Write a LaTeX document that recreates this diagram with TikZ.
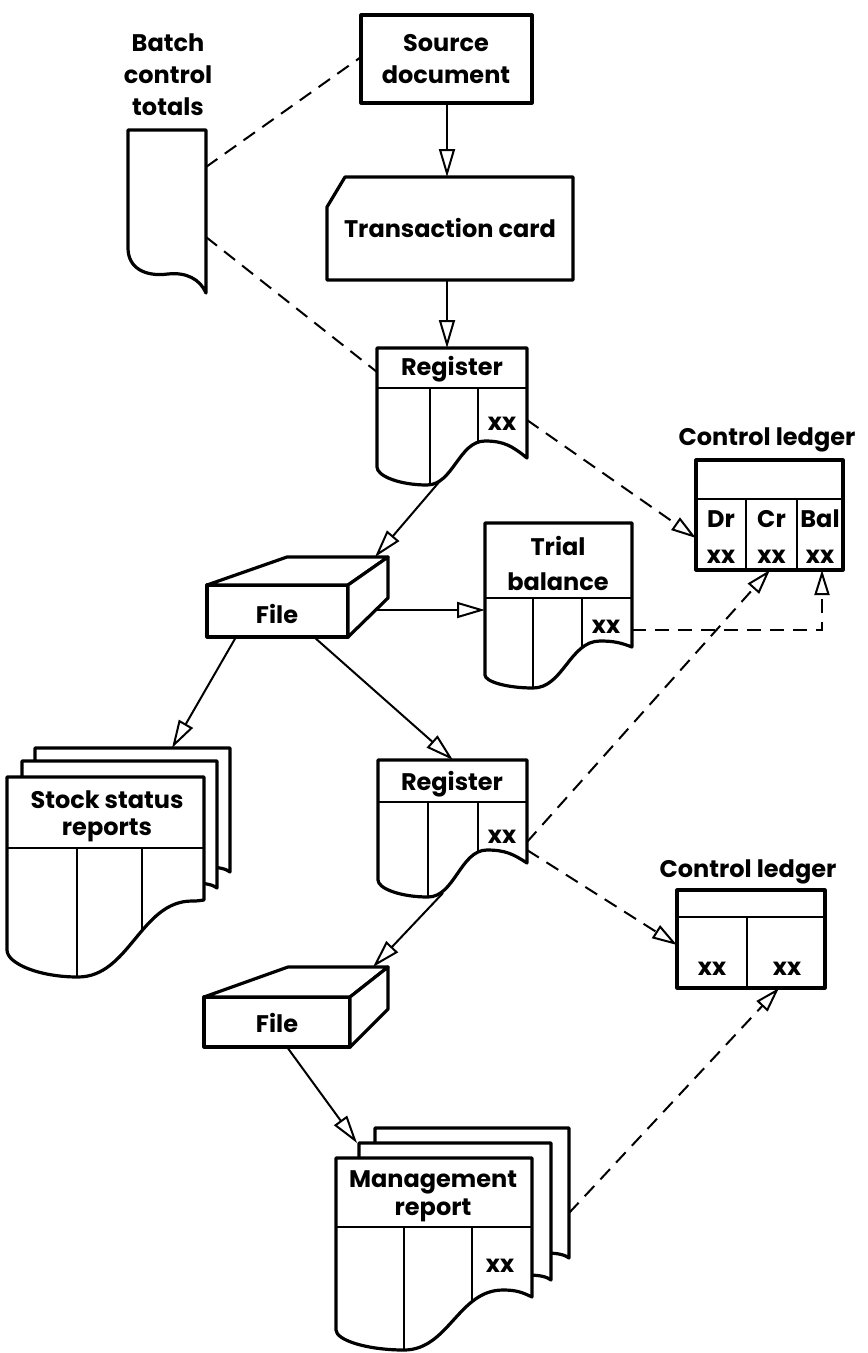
\documentclass[tikz,border=0pt]{standalone}
\usepackage{fontspec}
\setmainfont{Poppins}
\usetikzlibrary{arrows.meta}
% #1 x0, #2 top, #3 x1, #4 yR, #5 xC, #6 yC, #7 xT, #8 yT, #9 yL
\newcommand\docpath[9]{(#1,#2) -- (#3,#2) -- (#3,#4) .. controls ({#3-(#3-#5)*0.35},{#6+(#4-#6)*0.3}) and ({#5+(#3-#5)*0.45},#6) .. (#5,#6) .. controls ({#5-(#5-#7)*0.45},#6) and ({#7+(#5-#7)*0.45},#8) .. (#7,#8) .. controls ({#7-(#7-#1)*0.55},#8) and (#1,{#9+(#8-#9)*0.5}) .. (#1,#9) -- cycle}
\newcommand\setcols[3]{\def\rdiv{#1}\def\rca{#2}\def\rcb{#3}}
\newcommand\reportdoc[9]{%
  \fill[white] \docpath{#1}{#2}{#3}{#4}{#5}{#6}{#7}{#8}{#9};
  \begin{scope}
    \clip \docpath{#1}{#2}{#3}{#4}{#5}{#6}{#7}{#8}{#9};
    \draw[colline] (#1,\rdiv) -- (#3,\rdiv) (\rca,\rdiv) -- (\rca,1400) (\rcb,\rdiv) -- (\rcb,1400);
  \end{scope}
  \draw[ln] \docpath{#1}{#2}{#3}{#4}{#5}{#6}{#7}{#8}{#9};}
% back page of a stack: #1 x0, #2 top, #3 x1, #4 yR (only top, right edge and a small curl show)
\newcommand\pagedoc[4]{\draw[box] (#1,{#4-4}) -- (#1,#2) -- (#3,#2) -- (#3,#4) .. controls ({#3-4},{#4-3}) and ({#3-10},{#4-5}) .. ({#3-24},{#4-5}) -- cycle;}
\begin{document}
\begin{tikzpicture}[x=1pt,y=-1pt,
  ln/.style={line width=3.2pt,line join=round},
  box/.style={ln,fill=white},
  colline/.style={line width=2.8pt},
  conn/.style={line width=2pt,-{Triangle[open,length=28pt,width=16pt]}},
  dline/.style={line width=2pt,dash pattern=on 14pt off 9pt},
  darrow/.style={dline,-{Triangle[open,length=25pt,width=15pt]}},
  txt/.style={font=\fontsize{24}{28}\selectfont\bfseries,inner sep=0pt,anchor=base}]
\useasboundingbox (0,0) rectangle (868,1353);

% ---------- Batch control totals
\draw[box] (128,130) -- (206,130) -- (206,293) .. controls (200,279) and (186,272) .. (168,274) .. controls (145,277) and (128,268) .. (128,248) -- cycle;
\node[txt] (bt1) at (168,51) {Batch};
\node[txt] (bt2) at (168,83) {control};
\node[txt] (bt3) at (168,115) {totals};
\coordinate (batchA) at (206,167);
\coordinate (batchB) at (206,237);

% ---------- Source document
\draw[box] (361,15) rectangle (532,103);
\node[txt] (src1) at (446,51) {Source};
\node[txt] (src2) at (446,83) {document};
\coordinate (srcB) at (447,103);
\coordinate (srcL) at (361,57);

% ---------- Transaction card
\draw[box] (345,177) -- (573,177) -- (573,280) -- (327,280) -- (327,207) -- cycle;
\node[txt] (tc) at (450,237) {Transaction card};
\coordinate (tcT) at (447,177);
\coordinate (tcB) at (447,280);

% ---------- Register 1
\setcols{388}{430}{478}
\reportdoc{377}{348}{527}{458}{485}{441}{427}{485}{467}
\node[txt] (reg1) at (452,375) {Register};
\node[txt] (reg1x) at (502,430) {xx};
\coordinate (r1T) at (447,348);
\coordinate (r1L) at (377,372);
\coordinate (r1R) at (527,420);
\coordinate (r1out) at (440,481);

% ---------- Control ledger 1
\draw[box] (696,460) rectangle (843,570);
\draw[colline] (696,499) -- (843,499) (746,499) -- (746,570) (797,499) -- (797,570);
\node[txt] (cl1) at (767,445) {Control ledger};
\node[txt] (cl1a) at (721,527) {Dr};
\node[txt] (cl1b) at (771.5,527) {Cr};
\node[txt] (cl1c) at (820,527) {Bal};
\node[txt] (cl1ax) at (721,563) {xx};
\node[txt] (cl1bx) at (771.5,563) {xx};
\node[txt] (cl1cx) at (820,563) {xx};
\coordinate (cl1L) at (696,538);
\coordinate (cl1Cr) at (770,570);
\coordinate (cl1Bal) at (822,570);

% ---------- File 1
\draw[box] (207,585) rectangle (348,637);
\draw[box] (207,585) -- (287,557) -- (388,557) -- (348,585) -- cycle;
\draw[box] (348,585) -- (388,557) -- (388,598) -- (348,637) -- cycle;
\node[txt] (file1) at (277,623) {File};
\coordinate (f1top) at (375,557);
\coordinate (f1right) at (377,610);
\coordinate (f1b1) at (236,637);
\coordinate (f1b2) at (314,637);

% ---------- Trial balance
\setcols{598}{533}{582}
\reportdoc{485}{523}{632}{647}{600}{641}{533}{688}{675}
\node[txt] (tb1) at (558,555) {Trial};
\node[txt] (tb2) at (558,590) {balance};
\node[txt] (tbx) at (606,633) {xx};
\coordinate (tbL) at (485,610);
\coordinate (tbR) at (632,630);
\coordinate (tbc) at (822,630);

% ---------- Stock status reports
\pagedoc{35}{748}{230}{872}
\pagedoc{22}{761}{217}{888}
\setcols{848}{77}{142}
\reportdoc{7}{777}{204}{900}{192}{901}{78}{977}{950}
\node[txt] (st1) at (107,808) {Stock status};
\node[txt] (st2) at (107,835) {reports};
\coordinate (stTop) at (172,748);

% ---------- Register 2
\setcols{802}{428}{478}
\reportdoc{378}{760}{527}{863}{487}{850}{428}{897}{880}
\node[txt] (reg2) at (452,790) {Register};
\node[txt] (reg2x) at (502,843) {xx};
\coordinate (r2T) at (453,760);
\coordinate (r2Ra) at (527,842);
\coordinate (r2Rb) at (527,850);
\coordinate (r2out) at (443,893);

% ---------- Control ledger 2
\draw[box] (677,890) rectangle (825,988);
\draw[colline] (677,917) -- (825,917) (747,917) -- (747,988);
\node[txt] (cl2) at (748,877) {Control ledger};
\node[txt] (cl2a) at (712,975) {xx};
\node[txt] (cl2b) at (787,975) {xx};
\coordinate (cl2L) at (677,945);
\coordinate (cl2B) at (779,988);

% ---------- File 2
\draw[box] (204,997) rectangle (350,1047);
\draw[box] (204,997) -- (288,967) -- (388,967) -- (350,997) -- cycle;
\draw[box] (350,997) -- (388,967) -- (388,1009) -- (350,1047) -- cycle;
\node[txt] (file2) at (277,1032) {File};
\coordinate (f2top) at (373,967);
\coordinate (f2b) at (287,1047);

% ---------- Management report
\pagedoc{375}{1128}{569}{1258}
\pagedoc{359}{1143}{551}{1280}
\setcols{1227}{404}{472}
\reportdoc{336}{1158}{532}{1297}{503}{1290}{404}{1350}{1330}
\node[txt] (mr1) at (433,1187) {Management};
\node[txt] (mr2) at (433,1215) {report};
\node[txt] (mrx) at (500,1272) {xx};
\coordinate (mrTop) at (357,1143);
\coordinate (mrR) at (569,1213);

% ---------- solid connectors
\draw[conn] (srcB) -- (tcT);
\draw[conn] (tcB) -- (r1T);
\draw[conn] (r1out) -- (f1top);
\draw[conn] (f1right) -- (tbL);
\draw[conn] (f1b1) -- (stTop);
\draw[conn] (f1b2) -- (r2T);
\draw[conn] (r2out) -- (f2top);
\draw[conn] (f2b) -- (mrTop);

% ---------- dashed connectors
\draw[dline] (batchA) -- (srcL);
\draw[dline] (batchB) -- (r1L);
\draw[darrow] (r1R) -- (cl1L);
\draw[darrow] (tbR) -- (tbc) -- (cl1Bal);
\draw[darrow] (r2Ra) -- (cl1Cr);
\draw[darrow] (r2Rb) -- (cl2L);
\draw[darrow] (mrR) -- (cl2B);
\end{tikzpicture}
\end{document}
